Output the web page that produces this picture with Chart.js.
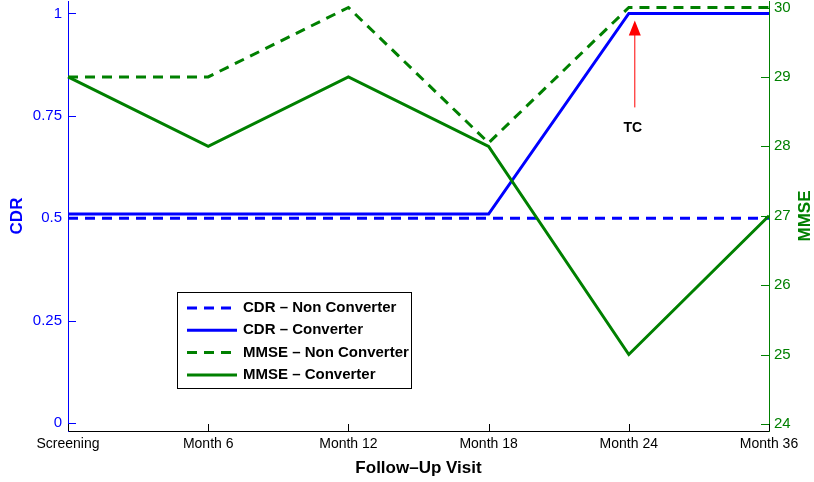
<!DOCTYPE html>
<html>
<head>
<meta charset="utf-8">
<script src="https://cdn.jsdelivr.net/npm/chart.js@4/dist/chart.umd.min.js"></script>
<style>
  html, body { margin: 0; padding: 0; background: #fff; }
  #wrap { width: 814px; height: 482px; }
</style>
</head>
<body>
<div id="wrap"><canvas id="cdrChart" width="814" height="482"></canvas></div>
<script>
const visits = ['Screening', 'Month 6', 'Month 12', 'Month 18', 'Month 24', 'Month 36'];
const cdrNonConverter = [0.5, 0.5, 0.5, 0.5, 0.5, 0.5];
const cdrConverter = [0.51, 0.51, 0.51, 0.51, 1, 1];
const mmseNonConverter = [29, 29, 30, 28.05, 30, 30];
const mmseConverter = [29, 28, 29, 28, 25, 27];
const cdrTicks = [0, 0.25, 0.5, 0.75, 1];
const mmseTicks = [24, 25, 26, 27, 28, 29, 30];

const BLUE = '#0000ff';
const GREEN = '#008000';
const FONT = '"Liberation Sans", Arial, Helvetica, sans-serif';

// inward tick marks like the old matlab style axes
const innerTicks = {
  id: 'innerTicks',
  afterDraw(chart) {
    const c = chart.ctx;
    const a = chart.chartArea;
    const x = chart.scales.x, y = chart.scales.y, y2 = chart.scales.y2;
    c.save();
    c.lineWidth = 1;
    c.strokeStyle = '#000';
    x.ticks.forEach((t, i) => {
      const px = Math.round(x.getPixelForTick(i)) + 0.5;
      c.beginPath(); c.moveTo(px, a.bottom); c.lineTo(px, a.bottom - 7); c.stroke();
    });
    c.strokeStyle = BLUE;
    y.ticks.forEach((t, i) => {
      const py = Math.round(y.getPixelForTick(i)) + 0.5;
      c.beginPath(); c.moveTo(a.left, py); c.lineTo(a.left + 8, py); c.stroke();
    });
    c.strokeStyle = GREEN;
    y2.ticks.forEach((t, i) => {
      const py = Math.round(y2.getPixelForTick(i)) + 0.5;
      c.beginPath(); c.moveTo(a.right, py); c.lineTo(a.right - 8, py); c.stroke();
    });
    c.restore();
  }
};

// axis titles, the right one reads bottom-up as well
const axisTitles = {
  id: 'axisTitles',
  afterDraw(chart) {
    const c = chart.ctx;
    const a = chart.chartArea;
    const midY = (a.top + a.bottom) / 2;
    c.save();
    c.font = 'bold 17px ' + FONT;
    c.textAlign = 'center';
    c.textBaseline = 'middle';
    c.fillStyle = '#000';
    c.fillText('Follow\u2013Up Visit', (a.left + a.right) / 2, 468);
    c.translate(17, midY);
    c.rotate(-Math.PI / 2);
    c.fillStyle = BLUE;
    c.fillText('CDR', 0, 0);
    c.restore();
    c.save();
    c.font = 'bold 17px ' + FONT;
    c.textAlign = 'center';
    c.textBaseline = 'middle';
    c.translate(805, midY);
    c.rotate(-Math.PI / 2);
    c.fillStyle = GREEN;
    c.fillText('MMSE', 0, 0);
    c.restore();
  }
};

// boxed legend inside the plot area
const boxLegend = {
  id: 'boxLegend',
  afterDraw(chart) {
    const c = chart.ctx;
    const left = 177, top = 292, w = 234, h = 96;
    c.save();
    c.fillStyle = '#fff';
    c.fillRect(left, top, w, h);
    c.strokeStyle = '#000';
    c.lineWidth = 1;
    c.strokeRect(left + 0.5, top + 0.5, w, h);
    c.font = 'bold 15px ' + FONT;
    c.textBaseline = 'middle';
    chart.data.datasets.forEach((ds, i) => {
      const ry = top + 16 + i * 22.3;
      c.strokeStyle = ds.borderColor;
      c.lineWidth = 3;
      c.setLineDash(ds.borderDash || []);
      c.beginPath(); c.moveTo(187, ry); c.lineTo(237, ry); c.stroke();
      c.setLineDash([]);
      c.fillStyle = '#000';
      c.fillText(ds.label, 243, ry);
    });
    c.restore();
  }
};

// red arrow marking the conversion visit
const tcArrow = {
  id: 'tcArrow',
  afterDraw(chart) {
    const c = chart.ctx;
    const x = chart.scales.x, y = chart.scales.y;
    const ax = x.getPixelForValue(4) + 6;
    const tip = y.getPixelForValue(cdrConverter[4]) + 7;
    c.save();
    c.strokeStyle = '#ff0000';
    c.fillStyle = '#ff0000';
    c.lineWidth = 1;
    c.beginPath(); c.moveTo(ax, tip + 12); c.lineTo(ax, tip + 87); c.stroke();
    c.beginPath();
    c.moveTo(ax, tip);
    c.lineTo(ax - 6, tip + 15);
    c.lineTo(ax + 6, tip + 15);
    c.closePath();
    c.fill();
    c.font = 'bold 14px ' + FONT;
    c.fillStyle = '#000';
    c.textAlign = 'center';
    c.textBaseline = 'middle';
    c.fillText('TC', ax - 2, tip + 108);
    c.restore();
  }
};

// no extra room for half tick labels at the ends of each axis
function fitY(width) {
  return s => { s.width = width; s.paddingTop = 0; s.paddingBottom = 0; };
}

const ctx = document.getElementById('cdrChart').getContext('2d');

const chart = new Chart(ctx, {
  type: 'line',
  data: {
    labels: visits,
    datasets: [
      {
        label: 'CDR \u2013 Non Converter',
        data: cdrNonConverter,
        yAxisID: 'y',
        borderColor: BLUE,
        borderDash: [10, 7],
        borderWidth: 3,
        order: 3
      },
      {
        label: 'CDR \u2013 Converter',
        data: cdrConverter,
        yAxisID: 'y',
        borderColor: BLUE,
        borderWidth: 3,
        order: 2
      },
      {
        label: 'MMSE \u2013 Non Converter',
        data: mmseNonConverter,
        yAxisID: 'y2',
        borderColor: GREEN,
        borderDash: [10, 7],
        borderWidth: 3,
        order: 1
      },
      {
        label: 'MMSE \u2013 Converter',
        data: mmseConverter,
        yAxisID: 'y2',
        borderColor: GREEN,
        borderWidth: 3,
        order: 0
      }
    ]
  },
  options: {
    responsive: false,
    animation: false,
    layout: { autoPadding: false, padding: { top: 1, left: 0, right: 0, bottom: 0 } },
    elements: {
      point: { radius: 0, hoverRadius: 0 },
      line: { tension: 0, borderCapStyle: 'butt', fill: false }
    },
    plugins: {
      legend: { display: false },
      tooltip: { enabled: false }
    },
    scales: {
      x: {
        offset: false,
        grid: { display: false, drawTicks: false },
        border: { display: true, color: '#000', width: 1 },
        ticks: { color: '#000', font: { family: FONT, size: 14 }, padding: 5, maxRotation: 0, autoSkip: false },
        afterFit(s) { s.height = 51; s.paddingLeft = 0; s.paddingRight = 0; }
      },
      y: {
        position: 'left',
        min: -0.0195,
        max: 1.0303,
        afterBuildTicks(s) { s.ticks = cdrTicks.map(v => ({ value: v })); },
        grid: { display: false, drawTicks: false },
        border: { display: true, color: BLUE, width: 1 },
        ticks: { color: BLUE, font: { family: FONT, size: 15 }, padding: 6, callback: v => String(v) },
        afterFit: fitY(68)
      },
      y2: {
        position: 'right',
        min: 23.898,
        max: 30.094,
        afterBuildTicks(s) { s.ticks = mmseTicks.map(v => ({ value: v })); },
        grid: { display: false, drawTicks: false },
        border: { display: true, color: GREEN, width: 1 },
        ticks: { color: GREEN, font: { family: FONT, size: 15 }, padding: 5, callback: v => String(v) },
        afterFit: fitY(45)
      }
    }
  },
  plugins: [innerTicks, axisTitles, boxLegend, tcArrow]
});
</script>
</body>
</html>
